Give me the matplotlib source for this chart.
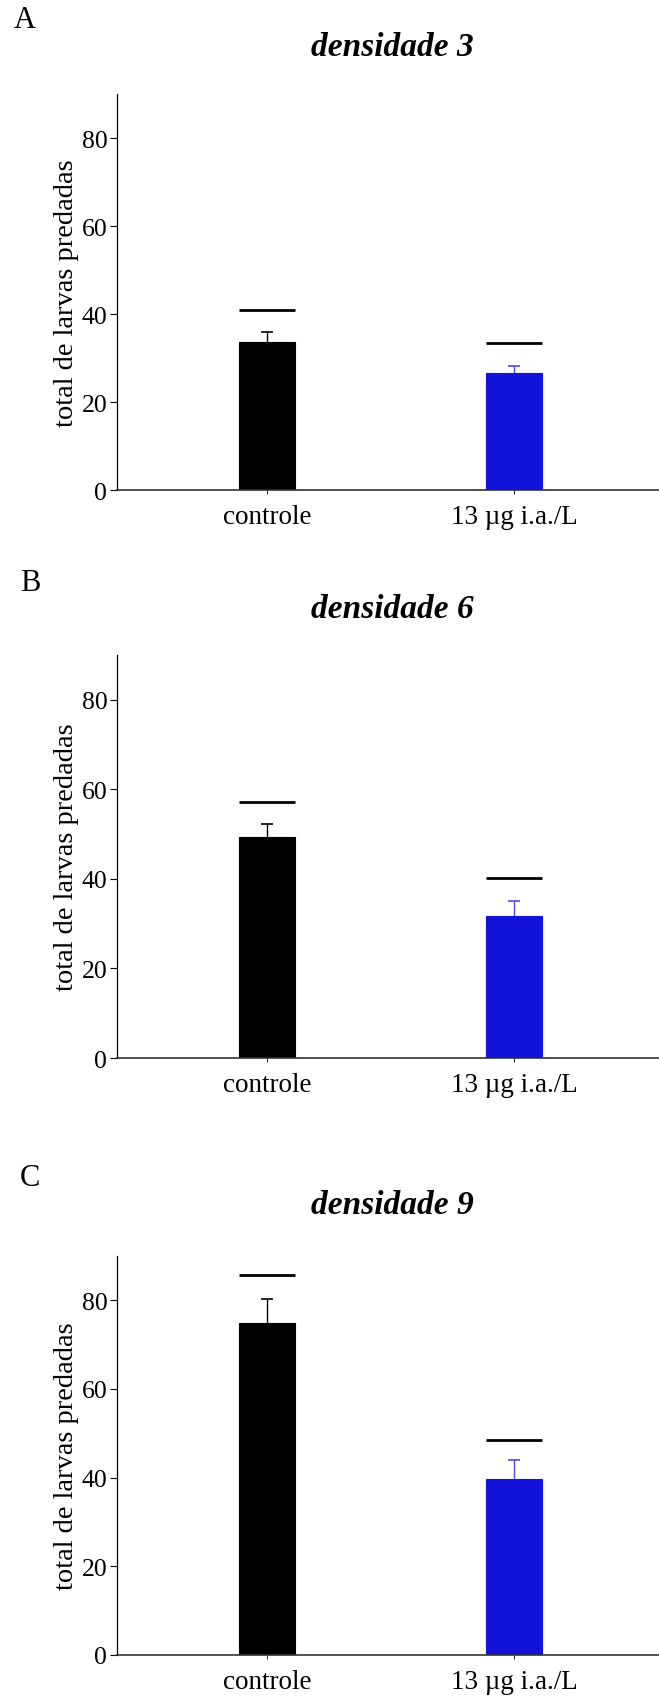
import numpy as np
import matplotlib.pyplot as plt

plt.rcParams['font.family'] = ['Liberation Serif', 'DejaVu Serif']

panel_letters = ['A', 'B', 'C']
titles = ['densidade 3', 'densidade 6', 'densidade 9']
groups = ['controle', '13 µg i.a./L']
mean_controle = [33.7, 49.3, 75.0]
mean_tratado = [26.6, 31.8, 39.6]
err_controle = [2.1, 2.9, 5.4]
err_tratado = [1.6, 3.2, 4.4]
line_controle = [41.0, 57.2, 85.8]   # horizontal marks above bars
line_tratado = [33.3, 40.1, 48.6]
yticks = [0, 20, 40, 60, 80]

bar_colors = ['#000000', '#1212d8']
err_colors = ['#000000', '#4a4ae6']

fig = plt.figure(figsize=(6.59, 16.99), dpi=100)
W, H = 659, 1699
# axes boxes in pixels: (left, top, bottom)
boxes = [(117, 95, 491), (117, 656, 1059), (117, 1257, 1656)]
letter_pos = [(25, 21), (30, 584), (30, 1179)]
title_y = [47, 610, 1206]

for k in range(3):
    l, t, b = boxes[k]
    ax = fig.add_axes([l / W, 1 - b / H, 1 - l / W, (b - t) / H])
    x = np.arange(len(groups))
    means = [mean_controle[k], mean_tratado[k]]
    errs = [err_controle[k], err_tratado[k]]
    lines = [line_controle[k], line_tratado[k]]
    ax.bar(x, means, width=0.23, color=bar_colors, edgecolor=bar_colors, linewidth=0.8, zorder=2)
    for i in range(2):
        eb = ax.errorbar(x[i], means[i], yerr=[[0], [errs[i]]], fmt='none', ecolor=err_colors[i],
                         elinewidth=1.0, capsize=4.5, capthick=1.2, zorder=1)
        eb[1][0].set_visible(False)  # no cap at the bar top
        ax.hlines(lines[i], x[i] - 0.115, x[i] + 0.115, colors='black', linewidth=2)
    ax.set_xlim(-0.607, 1.587)
    ax.set_ylim(0, 90)
    ax.set_yticks(yticks)
    ax.set_xticks(x)
    ax.set_xticklabels(groups, fontsize=19.5)
    ax.tick_params(axis='x', length=3, width=0.6, pad=7)
    ax.tick_params(axis='y', length=5, width=0.8, labelsize=18.5, pad=2)
    for s in ['top', 'right']:
        ax.spines[s].set_visible(False)
    ax.spines['left'].set_linewidth(0.9)
    ax.spines['bottom'].set_linewidth(1.2)
    ax.spines['bottom'].set_color('#333333')
    ax.set_ylabel('total de larvas predadas', fontsize=20.5, labelpad=2)
    fig.text(392 / W, 1 - title_y[k] / H, titles[k], ha='center', va='center',
             fontsize=24, fontweight='bold', fontstyle='italic')
    fig.text(letter_pos[k][0] / W, 1 - letter_pos[k][1] / H, panel_letters[k],
             ha='center', va='center', fontsize=22)

fig.savefig('out.png', dpi=100)
